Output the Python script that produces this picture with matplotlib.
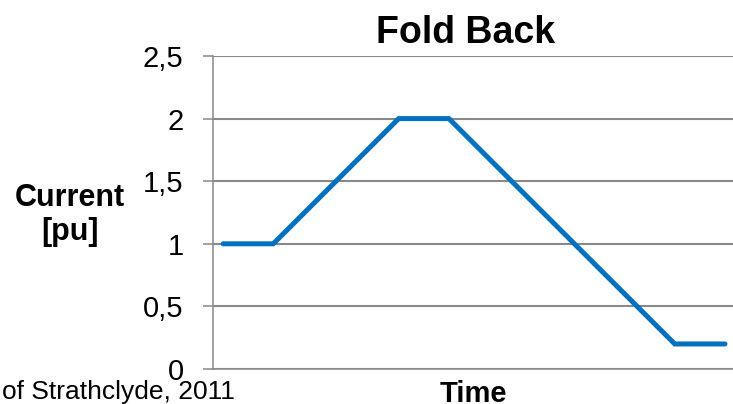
import matplotlib
matplotlib.use('Agg')
import matplotlib.pyplot as plt

plt.rcParams['font.family'] = ['Liberation Sans', 'DejaVu Sans']

# fold-back current profile
time_pts = [0, 2, 7, 9, 18, 20]
current_pu = [1.0, 1.0, 2.0, 2.0, 0.2, 0.2]
y_ticks = [0, 0.5, 1, 1.5, 2, 2.5]
y_tick_labels = ['0', '0,5', '1', '1,5', '2', '2,5']

grid_col = '#898989'

fig = plt.figure(figsize=(7.33, 4.04), dpi=100)
ax = fig.add_axes([213 / 733, 1 - 369 / 404, 1 - 213 / 733, (369 - 56) / 404])

ax.plot(time_pts, current_pu, color='#0070C0', linewidth=3.6,
        solid_capstyle='round', solid_joinstyle='miter', zorder=3)

ax.set_xlim(-0.4, 20.32)
ax.set_ylim(0, 2.5)
ax.set_yticks(y_ticks)
ax.set_yticklabels(y_tick_labels, fontsize=21)
ax.set_xticks([])
ax.yaxis.grid(True, color=grid_col, linewidth=1.5)
ax.set_axisbelow(True)
ax.tick_params(axis='y', length=7.2, width=1.1, color=grid_col, pad=14)

for side in ['top', 'right']:
    ax.spines[side].set_visible(False)
for side in ['left', 'bottom']:
    ax.spines[side].set_color(grid_col)
    ax.spines[side].set_linewidth(1.1)

fig.text(466 / 733, 1 - 43 / 404, 'Fold Back', fontsize=27, fontweight='bold',
         ha='center', va='baseline')
fig.text(70 / 733, 1 - 215 / 404, 'Current\n[pu]', fontsize=22, fontweight='bold',
         ha='center', va='center', multialignment='center', linespacing=1.2)
fig.text(473 / 733, 1 - 402 / 404, 'Time', fontsize=21, fontweight='bold',
         ha='center', va='baseline')
fig.text(2 / 733, 1 - 399 / 404, 'of Strathclyde, 2011', fontsize=19,
         ha='left', va='baseline')

fig.savefig('out.png', dpi=100)
